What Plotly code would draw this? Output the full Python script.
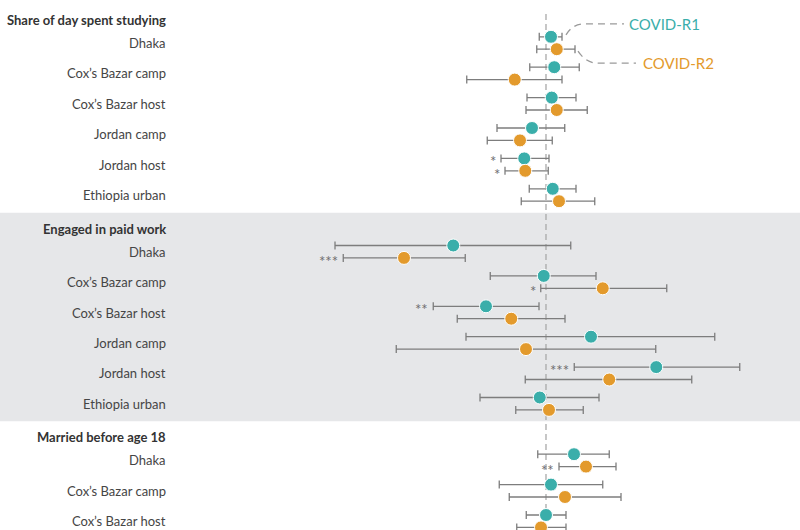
import plotly.graph_objects as go

# ---------------- data (effect estimates) ----------------
section_titles = ["Share of day spent studying", "Engaged in paid work", "Married before age 18"]
sites = ["Dhaka", "Cox’s Bazar camp", "Cox’s Bazar host", "Jordan camp", "Jordan host", "Ethiopia urban"]

study_r1_est = [2.0, 3.3, 2.3, -5.6, -8.7, 2.7]
study_r1_lo = [-2.7, -6.5, -7.6, -19.6, -18.0, -6.7]
study_r1_hi = [6.4, 13.3, 12.0, 7.5, 1.2, 12.0]
study_r1_sig = ["", "", "", "", "*", ""]
study_r2_est = [4.3, -12.5, 4.3, -10.4, -8.3, 5.2]
study_r2_lo = [-3.7, -31.7, -8.0, -23.5, -16.4, -9.9]
study_r2_hi = [11.6, 6.4, 16.5, 2.5, 0.9, 19.5]
study_r2_sig = ["", "", "", "", "*", ""]

work_r1_est = [-37.1, -0.9, -24.0, 18.0, 44.1, -2.5]
work_r1_lo = [-84.4, -22.3, -45.1, -32.0, 11.3, -26.4]
work_r1_hi = [9.9, 20.0, -2.8, 67.5, 77.5, 21.2]
work_r1_sig = ["", "", "**", "", "***", ""]
work_r2_est = [-56.8, 22.7, -13.9, -8.0, 25.3, 1.2]
work_r2_lo = [-81.1, -2.1, -35.5, -59.9, -8.3, -12.1]
work_r2_hi = [-32.3, 48.3, 7.6, 43.9, 58.3, 14.9]
work_r2_sig = ["***", "*", "", "", "", ""]

married_r1_est = [11.2, 2.0, 0.0]
married_r1_lo = [-3.3, -18.7, -7.9]
married_r1_hi = [25.3, 22.7, 8.0]
married_r1_sig = ["", "", ""]
married_r2_est = [16.0, 7.6, -2.0]
married_r2_lo = [5.2, -14.7, -11.7]
married_r2_hi = [28.0, 30.0, 8.0]
married_r2_sig = ["**", "", ""]

round_names = ["COVID-R1", "COVID-R2"]

# ---------------- styling / layout constants ----------------
TEAL = "#3aaeaa"
ORANGE = "#e39a2c"
BAR_GREY = "#7d7d7d"
BAND = "#e6e7e9"
FONT = "Lato, Roboto, sans-serif"

W, H = 800, 530
X_ZERO_PX = 546
PX_PER_UNIT = 2.5
FIRST_ROW = 43.0
SECTION_STEP = 208.7
ROW_STEP = 30.4
PAIR_OFF = 6.2
TITLE_OFF = -23.0
LABEL_RIGHT_PX = 168

sections = [
    dict(title=section_titles[0],
         r1=(study_r1_est, study_r1_lo, study_r1_hi, study_r1_sig),
         r2=(study_r2_est, study_r2_lo, study_r2_hi, study_r2_sig)),
    dict(title=section_titles[1],
         r1=(work_r1_est, work_r1_lo, work_r1_hi, work_r1_sig),
         r2=(work_r2_est, work_r2_lo, work_r2_hi, work_r2_sig)),
    dict(title=section_titles[2],
         r1=(married_r1_est, married_r1_lo, married_r1_hi, married_r1_sig),
         r2=(married_r2_est, married_r2_lo, married_r2_hi, married_r2_sig)),
]

fig = go.Figure()
annotations = []
shapes = []

# grey band behind second section
band_top = FIRST_ROW + SECTION_STEP - 39
band_bot = FIRST_ROW + SECTION_STEP + 5 * ROW_STEP + 17.5
shapes.append(dict(type="rect", xref="paper", yref="y", x0=0, x1=1, y0=band_top, y1=band_bot,
                   fillcolor=BAND, line=dict(width=0), layer="below"))

# zero reference line
shapes.append(dict(type="line", xref="x", yref="paper", x0=0, x1=0, y0=0, y1=1 - 13 / H,
                   line=dict(color="#a9a9a9", width=1.3, dash="6px,4px"), layer="below"))

for s_idx, sec in enumerate(sections):
    base = FIRST_ROW + s_idx * SECTION_STEP
    n = len(sec["r1"][0])
    row_y = [base + i * ROW_STEP for i in range(n)]
    annotations.append(dict(x=LABEL_RIGHT_PX / W, xref="paper", y=base + TITLE_OFF, yref="y",
                            text="<b>" + sec["title"] + "</b>", showarrow=False,
                            xanchor="right", yanchor="middle",
                            font=dict(family=FONT, size=13, color="#333333")))
    for i in range(n):
        annotations.append(dict(x=LABEL_RIGHT_PX / W, xref="paper", y=row_y[i], yref="y",
                                text=sites[i], showarrow=False, xanchor="right", yanchor="middle",
                                font=dict(family=FONT, size=13, color="#454545")))
    for key, off, color in (("r1", -PAIR_OFF, TEAL), ("r2", PAIR_OFF, ORANGE)):
        est, lo, hi, sig = sec[key]
        ys = [y + off for y in row_y]
        fig.add_trace(go.Scatter(
            x=est, y=ys, mode="markers",
            marker=dict(size=13, color=color, line=dict(color="white", width=1)),
            error_x=dict(type="data", symmetric=False,
                         array=[h - e for h, e in zip(hi, est)],
                         arrayminus=[e - l for e, l in zip(est, lo)],
                         color=BAR_GREY, thickness=1.3, width=4),
            hoverinfo="skip", showlegend=False,
            cliponaxis=False,
        ))
        for j in range(n):
            if sig[j]:
                annotations.append(dict(x=lo[j], y=ys[j], xref="x", yref="y", text=sig[j],
                                        showarrow=False, xanchor="right", yanchor="middle",
                                        xshift=-3, yshift=-3,
                                        font=dict(family=FONT, size=15, color="#6e6e6e")))

# legend call-outs attached to the first row of the first section
r1_y = FIRST_ROW - PAIR_OFF
r2_y = FIRST_ROW + PAIR_OFF
u = 1 / PX_PER_UNIT
r1x0 = study_r1_hi[0] + 4 * u
r2x0 = study_r2_hi[0] + 3 * u
r1_txt_y = r1_y - 13
r2_txt_y = r2_y + 14
shapes.append(dict(type="path", xref="x", yref="y",
                   path=f"M {r1x0},{r1_y - 2} Q {r1x0 + 7*u},{r1_txt_y} {r1x0 + 18*u},{r1_txt_y} L {r1x0 + 58*u},{r1_txt_y}",
                   line=dict(color="#9a9a9a", width=1.3, dash="7px,5px")))
shapes.append(dict(type="path", xref="x", yref="y",
                   path=f"M {r2x0},{r2_y + 2} Q {r2x0 + 8*u},{r2_txt_y} {r2x0 + 20*u},{r2_txt_y} L {r2x0 + 58*u},{r2_txt_y}",
                   line=dict(color="#9a9a9a", width=1.3, dash="7px,5px")))
annotations.append(dict(x=r1x0 + 61 * u, y=r1_txt_y, xref="x", yref="y", text=round_names[0],
                        showarrow=False, xanchor="left", yanchor="middle",
                        font=dict(family=FONT, size=15, color=TEAL)))
annotations.append(dict(x=r2x0 + 63 * u, y=r2_txt_y, xref="x", yref="y", text=round_names[1],
                        showarrow=False, xanchor="left", yanchor="middle",
                        font=dict(family=FONT, size=15, color=ORANGE)))

fig.update_layout(
    width=W, height=H,
    margin=dict(l=0, r=0, t=0, b=0),
    paper_bgcolor="white", plot_bgcolor="rgba(0,0,0,0)",
    xaxis=dict(range=[-X_ZERO_PX / PX_PER_UNIT, (W - X_ZERO_PX) / PX_PER_UNIT],
               visible=False, fixedrange=True),
    yaxis=dict(range=[H, 0], visible=False, fixedrange=True),
    shapes=shapes, annotations=annotations,
    showlegend=False,
)

fig.write_html("out.html", config={"displayModeBar": False},
               post_script="document.body.style.margin='0';")
